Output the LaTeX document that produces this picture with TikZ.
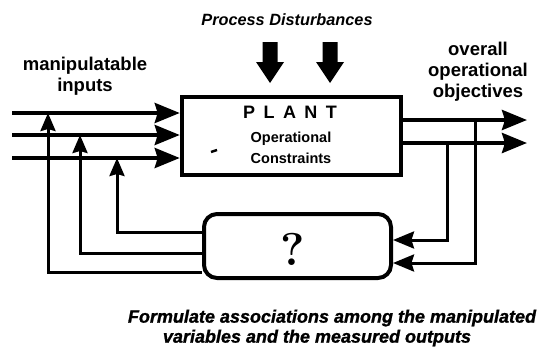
\documentclass[tikz,border=0pt]{standalone}
\usepackage{fontspec}
\newfontfamily\sansfont{Liberation Sans}
\newfontfamily\heavyfont[FakeBold=1.2]{Liberation Sans Bold Italic}
\usetikzlibrary{arrows.meta}
\begin{document}
\begin{tikzpicture}[x=1pt,y=-1pt,
  lbl/.style={font=\sansfont\bfseries\fontsize{18.5}{21}\selectfont, align=center, inner sep=0pt},
  boxtxt/.style={font=\sansfont\bfseries\fontsize{14.5}{16}\selectfont, inner sep=0pt},
  captxt/.style={font=\heavyfont\fontsize{18}{18}\selectfont, inner sep=0pt},
  mainline/.style={line width=4pt, -{Stealth[length=25pt,width=20pt,inset=3pt]}},
  fbline/.style={line width=3pt, -{Stealth[length=18pt,width=15pt,inset=2pt]}},
  backline/.style={line width=3pt, -{Stealth[length=21pt,width=17pt,inset=2.5pt]}},
  plantbox/.style={draw, line width=4.5pt, minimum width=219pt, minimum height=78pt, inner sep=0pt},
  qbox/.style={draw, line width=4pt, rounded corners=13pt, minimum width=187pt, minimum height=64pt, inner sep=0pt},
  dist/.pic={\fill (-7.5,0) -- (7.5,0) -- (7.5,20) -- (14,20) -- (0,41) -- (-14,20) -- (-7.5,20) -- cycle;}
]
\useasboundingbox (0,0) rectangle (549,354);

% blocks
\node[plantbox] (plant) at (291.5,136) {};
\node[qbox] (q) at (297.5,246) {};
\node[font=\bfseries\fontsize{46}{46}\selectfont, inner sep=0pt] (qm) at (293,249) {?};

% text inside the plant
\node[font=\sansfont\bfseries\fontsize{18}{18}\selectfont, inner sep=0pt] (pname) at (290,112)
  {P\hspace{8.5pt}L\hspace{8.5pt}A\hspace{8.5pt}N\hspace{8.5pt}T};
\node[boxtxt] (oper) at (291,139) {Operational};
\node[boxtxt] (cons) at (291,158) {Constraints};
\draw[line width=2.5pt] (211,152) -- (217,150);

% disturbances
\node[font=\sansfont\bfseries\itshape\fontsize{16.3}{16.3}\selectfont, inner sep=0pt] (dtitle) at (287,20) {Process Disturbances};
\pic at (270,42) {dist};
\pic at (330,42) {dist};

% labels
\node[lbl] (minp) at (85,76.5) {manipulatable\\inputs};
\node[lbl] (objs) at (478,72) {overall\\operational\\objectives};

% manipulated inputs
\coordinate (in1) at (12,113);
\coordinate (in2) at (12,135);
\coordinate (in3) at (12,158);
\draw[mainline] (in1) -- (in1 -| plant.west);
\draw[mainline] (in2) -- (in2 -| plant.west);
\draw[mainline] (in3) -- (in3 -| plant.west);

% outputs
\coordinate (out1) at (527,120);
\coordinate (out2) at (527,143);
\draw[mainline] (out1 -| plant.east) -- (out1);
\draw[mainline] (out2 -| plant.east) -- (out2);

% measurements into the pairing block
\coordinate (m1) at (475,263);
\coordinate (m2) at (447,240);
\draw[backline] (m1 |- out1) -- (m1) -- (m1 -| q.east);
\draw[backline] (m2 |- out2) -- (m2) -- (m2 -| q.east);

% pairing block back to the inputs
\coordinate (fb1) at (48,272);
\coordinate (fb2) at (80,253);
\coordinate (fb3) at (117,232);
\draw[fbline] (fb1 -| q.west) -- (fb1) -- (fb1 |- in1);
\draw[fbline] (fb2 -| q.west) -- (fb2) -- (fb2 |- in2);
\draw[fbline] (fb3 -| q.west) -- (fb3) -- (fb3 |- in3);

% caption
\node[captxt] (cap1) at (332,318) {Formulate associations among the manipulated};
\node[captxt] (cap2) at (317,338) {variables and the measured outputs};
\end{tikzpicture}
\end{document}
